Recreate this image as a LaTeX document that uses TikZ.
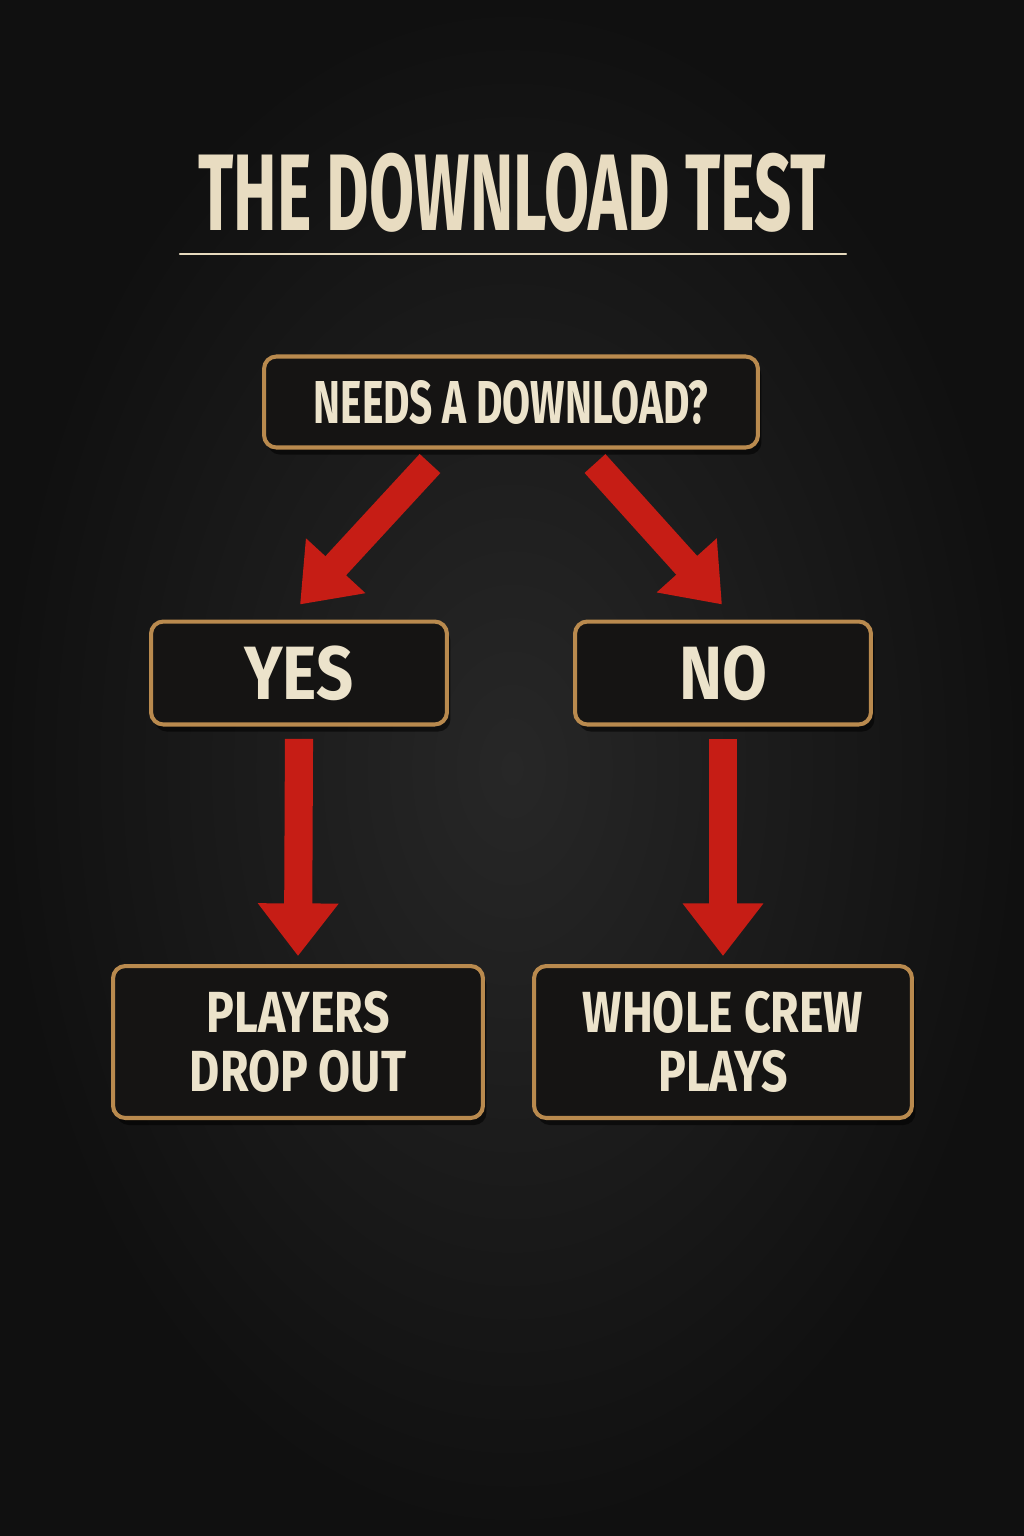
\documentclass[tikz,border=0pt]{standalone}
\usepackage{fontspec}
\setmainfont{Fira Sans}
\newfontfamily\signfont{Fira Sans}[FakeStretch=0.6]
\newfontfamily\askfont{Fira Sans}[FakeStretch=0.67]
\newfontfamily\answerfont{Fira Sans}[FakeStretch=0.86]
\newfontfamily\resultfont{Fira Sans}[FakeStretch=0.8]
\usetikzlibrary{arrows.meta,shadows}

\definecolor{board}{HTML}{1A1A1A}
\definecolor{boardmid}{HTML}{272727}
\definecolor{boardedge}{HTML}{101010}
\definecolor{cream}{HTML}{ECE3CB}
\definecolor{tan}{HTML}{B98A4E}
\definecolor{boxfill}{HTML}{151413}
\definecolor{arrowred}{HTML}{C61D15}

\begin{document}
\begin{tikzpicture}[x=0.02cm, y=-0.02cm,
		signbox/.style={draw=tan, line width=2.3pt, fill=boxfill, rounded corners=7pt,
			text=cream, align=center, inner sep=0pt,
			drop shadow={shadow xshift=2pt, shadow yshift=-4pt, opacity=0.55, fill=black}},
		redarrow/.style={draw=arrowred, line width=16pt,
			-{Triangle[width=44pt, length=30pt]}}]
	% Background with a soft vignette
	\useasboundingbox (0,0) rectangle (1024,1536);
	\fill[board] (0,0) rectangle (1024,1536);
	\shade[inner color=boardmid, outer color=boardedge] (0,0) rectangle (1024,1536);
	
	% Title and rule
	\node[text=cream!92!tan, font=\signfont\bfseries\fontsize{62}{62}\selectfont] (title) at (512,193) {THE DOWNLOAD TEST};
	\draw[cream!90!tan, line width=1.3pt, line cap=round] (180,254) -- (846,254);
	
	% Boxes
	\node[signbox, minimum width=9.88cm, minimum height=1.82cm, font=\askfont\bfseries\fontsize{34.5}{36}\selectfont] (ask) at (511,402) {NEEDS A DOWNLOAD?};
	\node[signbox, minimum width=5.92cm, minimum height=2.06cm, font=\answerfont\bfseries\fontsize{43}{45}\selectfont] (yes) at (299,673) {YES};
	\node[signbox, minimum width=5.92cm, minimum height=2.06cm, font=\answerfont\bfseries\fontsize{43}{45}\selectfont] (no) at (723,673) {NO};
	\node[signbox, minimum width=7.4cm, minimum height=3.04cm, font=\resultfont\bfseries\fontsize{33}{34}\selectfont] (drop) at (298,1042) {PLAYERS\\DROP OUT};
	\node[signbox, minimum width=7.56cm, minimum height=3.04cm, font=\resultfont\bfseries\fontsize{33}{34}\selectfont] (crew) at (723,1042) {WHOLE CREW\\PLAYS};
	
	% Arrows
	\draw[redarrow] ([shift={(-81,14)}]ask.south) -- ([shift={(1,-15)}]yes.north);
	\draw[redarrow] ([shift={(84,14)}]ask.south) -- ([shift={(-1,-15)}]no.north);
	\draw[redarrow] ([yshift=-7pt]yes.south) -- ([yshift=4.5pt]drop.north);
	\draw[redarrow] ([yshift=-7pt]no.south) -- ([yshift=4.5pt]crew.north);
\end{tikzpicture}
\end{document}
